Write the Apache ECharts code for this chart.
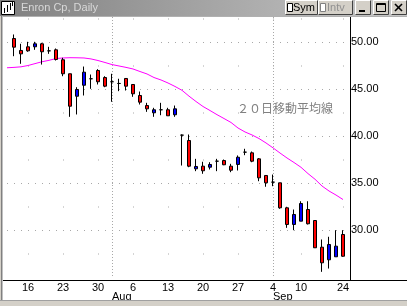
<!DOCTYPE html>
<html>
<head>
<meta charset="utf-8">
<script src="https://cdn.jsdelivr.net/npm/echarts@6/dist/echarts.min.js"></script>
<style>
html,body{margin:0;padding:0;background:#fff;}
#c{width:407px;height:306px;}
</style>
</head>
<body>
<div id="c"></div>
<script>
// ---- data ----
const categories = [
 '2001-07-10','2001-07-11','2001-07-12','2001-07-13','2001-07-16','2001-07-17','2001-07-18','2001-07-19','2001-07-20',
 '2001-07-23','2001-07-24','2001-07-25','2001-07-26','2001-07-27','2001-07-30','2001-07-31',
 '2001-08-01','2001-08-02','2001-08-03','2001-08-06','2001-08-07','2001-08-08','2001-08-09','2001-08-10',
 '2001-08-13','2001-08-14','2001-08-15','2001-08-16','2001-08-17','2001-08-20','2001-08-21','2001-08-22','2001-08-23','2001-08-24',
 '2001-08-27','2001-08-28','2001-08-29','2001-08-30','2001-08-31',
 '2001-09-04','2001-09-05','2001-09-06','2001-09-07','2001-09-10',
 '2001-09-17','2001-09-18','2001-09-19','2001-09-20','2001-09-21','2001-09-24','2001-09-25'
];
const openV  = [null,null,50.37,49.10,49.49,49.49,49.81,49.06,49.17,48.11,46.62,44.23,45.40,46.09,46.97,46.22,
  45.77,45.59,46.12,45.48,44.31,43.24,42.47,42.79,42.79,42.26,40.09,39.52,36.51,36.79,36.68,37.32,37.39,36.79,
  36.97,38.28,38.21,37.57,35.80,35.09,35.02,32.36,30.59,30.94,32.18,31.01,28.17,26.83,27.15,29.52,null];
const closeV = [null,null,49.45,48.74,49.06,49.81,48.96,49.06,48.14,46.62,43.17,44.95,46.79,46.09,45.77,45.30,
  45.77,45.59,45.30,44.49,43.60,42.89,42.79,42.79,42.15,42.89,40.09,36.79,36.76,36.30,36.97,37.32,36.94,36.36,
  37.74,38.28,37.32,35.55,35.02,35.09,32.36,30.59,31.65,32.82,30.66,28.11,26.51,28.46,28.28,27.21,null];
const lowV   = [null,null,48.49,47.68,48.96,49.17,47.60,48.74,48.03,46.36,42.04,42.29,44.31,45.02,45.48,45.19,
  43.64,44.77,44.84,44.17,43.35,42.57,42.04,42.21,42.15,42.04,36.86,36.68,36.26,35.98,36.44,36.26,36.90,36.15,
  36.33,37.96,37.21,35.19,34.60,34.66,32.26,30.23,29.98,30.94,30.59,28.10,25.55,25.90,27.15,27.15,null];
const highV  = [null,null,50.80,49.81,50.02,50.02,49.91,49.49,49.31,48.32,46.62,45.19,47.39,46.54,47.11,46.36,
  46.62,46.09,46.12,45.48,44.73,43.53,43.00,43.53,43.00,43.24,40.16,40.16,37.57,37.26,37.21,37.57,37.50,37.04,
  37.93,38.64,38.35,37.65,35.80,35.90,35.02,32.47,32.18,33.06,33.06,31.01,28.99,29.28,29.98,29.98,null];
const ma20   = [null,47.26,47.30,47.36,47.50,47.70,47.90,48.05,48.24,48.30,48.33,48.32,48.30,48.20,48.03,47.82,
  47.60,47.45,47.30,47.13,46.86,46.60,46.22,45.96,45.64,45.27,44.86,44.24,43.67,43.14,42.71,42.27,41.86,41.44,
  40.85,40.43,40.11,39.73,39.26,38.74,38.19,37.66,37.18,36.67,36.00,35.40,34.68,34.15,33.72,33.24,null];
const tickDates = ['2001-07-16','2001-07-23','2001-07-30','2001-08-06','2001-08-13','2001-08-20','2001-08-27','2001-09-04','2001-09-10','2001-09-24'];
const monthDates = ['2001-08-01','2001-09-04'];
const monthNames = ['Aug','Sep'];
const yLabelMin = 30, yLabelMax = 50;
const titleText = 'Enron Cp, Daily';
const maText = '２０日移動平均線';

// ---- chart ----
const candles = categories.map((d, i) =>
  openV[i] == null ? '-' : [openV[i], closeV[i], lowV[i], highV[i]]);

const FONT = 'Liberation Sans, Arial, sans-serif';
const chart = echarts.init(document.getElementById('c'), null, {renderer: 'canvas'});

function btn(x, w) {
  return [
    {type:'rect', shape:{x:x, y:0, width:w, height:15}, style:{fill:'#d4d0c8', stroke:null}, z:100},
    {type:'polyline', shape:{points:[[x+0.5,14.5],[x+0.5,0.5],[x+w-0.5,0.5]]}, style:{stroke:'#ffffff', lineWidth:1, fill:null}, z:101},
    {type:'polyline', shape:{points:[[x+0.5,14.5],[x+w-0.5,14.5],[x+w-0.5,0.5]]}, style:{stroke:'#404040', lineWidth:1, fill:null}, z:101}
  ];
}

const graphics = [
  // title bar
  {type:'rect', shape:{x:0,y:0,width:407,height:16}, style:{fill:new echarts.graphic.LinearGradient(0,0,1,0,[{offset:0,color:'#808080'},{offset:1,color:'#c8c8c8'}])}, z:90},
  {type:'rect', shape:{x:0,y:16,width:407,height:1}, style:{fill:'#b0b0b0'}, z:90},
  {type:'rect', shape:{x:1.5,y:1.5,width:13,height:13}, style:{fill:'#ffffff', stroke:'#000', lineWidth:1}, z:100},
  {type:'polyline', shape:{points:[[4.5,13],[4.5,8]]}, style:{stroke:'#000', lineWidth:1, fill:null}, z:101},
  {type:'polyline', shape:{points:[[7.5,12],[7.5,5]]}, style:{stroke:'#000', lineWidth:1, fill:null}, z:101},
  {type:'polyline', shape:{points:[[10.5,10],[10.5,3]]}, style:{stroke:'#000', lineWidth:1, fill:null}, z:101},
  {type:'polyline', shape:{points:[[12.5,6],[12.5,2]]}, style:{stroke:'#000', lineWidth:1, fill:null}, z:101},
  {type:'text', x:21, y:8, style:{text:titleText, fill:'#d8d8d8', font:'11px ' + FONT, textVerticalAlign:'middle'}, z:100},
  ...btn(285, 33), ...btn(318, 35), ...btn(355, 16), ...btn(373, 16), ...btn(391, 16),
  {type:'rect', shape:{x:287.5,y:3.5,width:5,height:8}, style:{fill:'#fff', stroke:'#000', lineWidth:1}, z:102},
  {type:'text', x:293, y:8, style:{text:'Sym', fill:'#000', font:'11px ' + FONT, textVerticalAlign:'middle'}, z:102},
  {type:'rect', shape:{x:320.5,y:3.5,width:5,height:8}, style:{fill:'#fff', stroke:'#808080', lineWidth:1}, z:102},
  {type:'text', x:327, y:8, style:{text:'Intv', fill:'#909090', font:'11px ' + FONT, textVerticalAlign:'middle'}, z:102},
  {type:'rect', shape:{x:359,y:10,width:6,height:2}, style:{fill:'#000'}, z:102},
  {type:'rect', shape:{x:376.5,y:3.5,width:9,height:8}, style:{fill:null, stroke:'#000', lineWidth:1}, z:102},
  {type:'rect', shape:{x:377,y:4,width:8,height:1}, style:{fill:'#000'}, z:102},
  {type:'polyline', shape:{points:[[395,4],[402,11]]}, style:{stroke:'#000', lineWidth:1.6, fill:null}, z:102},
  {type:'polyline', shape:{points:[[402,4],[395,11]]}, style:{stroke:'#000', lineWidth:1.6, fill:null}, z:102},
  // window frame
  {type:'rect', shape:{x:0,y:16,width:1,height:290}, style:{fill:'#d4d0c8'}, z:90},
  {type:'rect', shape:{x:1,y:16,width:1,height:290}, style:{fill:'#808080'}, z:90},
  {type:'rect', shape:{x:2,y:16,width:1,height:290}, style:{fill:'#c0c0c0'}, z:90},
  {type:'rect', shape:{x:0,y:300,width:407,height:1}, style:{fill:'#a0a0a0'}, z:90},
  {type:'rect', shape:{x:0,y:301,width:407,height:5}, style:{fill:'#d4d0c8'}, z:90},
  // axis joins
  {type:'line', shape:{x1:350,y1:280.5,x2:407,y2:280.5}, style:{stroke:'#000', lineWidth:1}, z:50},
  {type:'line', shape:{x1:350.5,y1:276,x2:350.5,y2:281}, style:{stroke:'#000', lineWidth:1}, z:50},
  // MA caption
  {type:'text', x:237, y:108.5, style:{text:maText, fill:'#808080', font:'12px "Noto Sans CJK JP"', textVerticalAlign:'middle'}, z:40}
];

const isTick = (i, v) => tickDates.indexOf(v) >= 0;
const isMonth = (i, v) => monthDates.indexOf(v) >= 0;

chart.setOption({
  animation: false,
  backgroundColor: '#ffffff',
  grid: {left: 0, top: 17, width: 350, height: 260},
  xAxis: [
    {
      type: 'category', data: categories, boundaryGap: false, position: 'bottom', offset: 3,
      axisLine: {show: true, lineStyle: {color: '#000', width: 1}},
      axisTick: {show: false},
      axisLabel: {interval: isTick, formatter: v => String(parseInt(v.slice(8), 10)), margin: 2,
        color: '#000', fontSize: 11, fontFamily: FONT},
      splitLine: {show: true, interval: isTick, lineStyle: {color: '#a8a8a8', width: 1, type: [1, 22.5], dashOffset: 22}}
    },
    {
      type: 'category', data: categories, boundaryGap: false, position: 'bottom', offset: 3,
      axisLine: {show: false}, axisTick: {show: false},
      axisLabel: {interval: isMonth, formatter: v => monthNames[monthDates.indexOf(v)] || '', margin: 11,
        align: 'left', color: '#000', fontSize: 11, fontFamily: FONT},
      splitLine: {show: true, interval: isMonth, lineStyle: {color: '#a8a8a8', width: 1, type: [1, 2]}}
    }
  ],
  yAxis: {
    type: 'value', position: 'right', min: 25, max: 52.66, interval: 5, scale: true,
    axisLine: {show: true, lineStyle: {color: '#000', width: 1}},
    axisTick: {show: false},
    axisLabel: {formatter: v => (v >= yLabelMin && v <= yLabelMax && v % 5 === 0) ? v.toFixed(2) : '',
      margin: 1, color: '#000', fontSize: 11, fontFamily: FONT, showMaxLabel: false},
    splitLine: {show: true, showMinLine: false, showMaxLine: false,
      lineStyle: {color: '#a8a8a8', width: 1, type: [1, 6]}}
  },
  series: [
    {
      type: 'candlestick', data: candles, barWidth: 4,
      itemStyle: {color: '#0000ff', color0: '#ff0000', borderColor: '#000', borderColor0: '#000',
        borderColorDoji: '#000', borderWidth: 1}
    },
    {
      type: 'line', data: ma20, symbol: 'none', smooth: false,
      lineStyle: {color: '#ff00ff', width: 1}, z: 1
    }
  ],
  graphic: graphics
});
</script>
</body>
</html>
